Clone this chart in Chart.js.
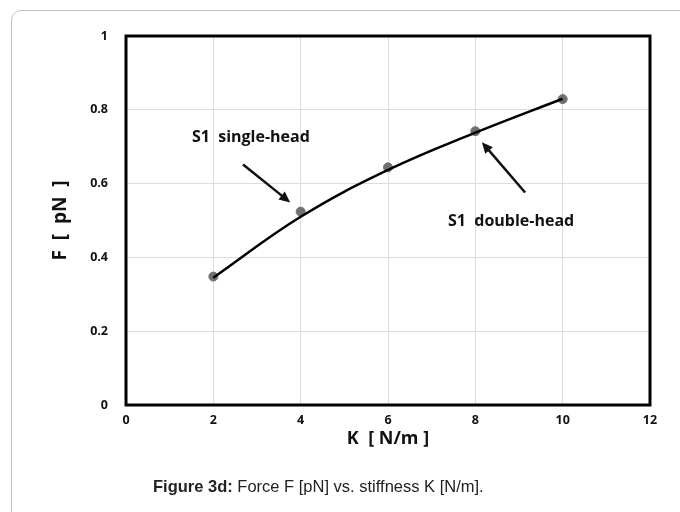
<!DOCTYPE html>
<html>
<head>
<meta charset="utf-8">
<script src="https://cdn.jsdelivr.net/npm/chart.js@4.4.0/dist/chart.umd.min.js"></script>
<style>
  html, body { margin: 0; padding: 0; background: #fff; }
  #wrap { position: relative; width: 680px; height: 512px; overflow: hidden; }
  #frame {
    position: absolute; left: 11px; top: 10px; width: 700px; height: 540px;
    border: 1px solid #c4c4c4; border-radius: 10px; box-sizing: border-box;
  }
  #chart { position: absolute; left: 0; top: 0; }
  #caption {
    position: absolute; left: 153px; top: 477px;
    font-family: "Liberation Sans", Arial, sans-serif; font-size: 16.5px; color: #222;
    white-space: nowrap;
  }
</style>
</head>
<body>
<div id="wrap">
  <div id="frame"></div>
  <canvas id="chart" width="680" height="512"></canvas>
  <div id="caption"><b>Figure 3d:</b> Force F [pN] vs. stiffness K [N/m].</div>
</div>
<script>
'use strict';

// data
const kValues = [2, 4, 6, 8, 10];
const forceValues = [0.348, 0.524, 0.644, 0.742, 0.829];
// trend curve as drawn in the figure
const fitValues = [0.345, 0.51, 0.637, 0.738, 0.83];
const xTicks = [0, 2, 4, 6, 8, 10, 12];
const yTicks = [0, 0.2, 0.4, 0.6, 0.8, 1];

// labels with arrows, in data units
const notes = [
  { text: 'S1  single-head', x: 2.86, y: 0.726, from: [2.68, 0.652], to: [3.76, 0.549] },
  { text: 'S1  double-head', x: 8.82, y: 0.497, from: [9.14, 0.576], to: [8.15, 0.712] }
];

const tickFont = { family: '"Open Sans", sans-serif', size: 12.5, weight: 'bold' };

// thick frame round the plot area
const plotBorder = {
  id: 'plotBorder',
  afterDraw(chart) {
    const a = chart.chartArea, ctx = chart.ctx;
    ctx.save();
    ctx.strokeStyle = '#000';
    ctx.lineWidth = 3;
    ctx.strokeRect(a.left, a.top, a.right - a.left, a.bottom - a.top);
    ctx.restore();
  }
};

// text labels and arrows
const arrowNotes = {
  id: 'arrowNotes',
  afterDraw(chart) {
    const ctx = chart.ctx, xs = chart.scales.x, ys = chart.scales.y;
    ctx.save();
    notes.forEach(function(n) {
      ctx.fillStyle = '#111';
      ctx.font = 'bold 16px "Open Sans", sans-serif';
      ctx.textAlign = 'center';
      ctx.textBaseline = 'middle';
      ctx.fillText(n.text, xs.getPixelForValue(n.x), ys.getPixelForValue(n.y));

      const x1 = xs.getPixelForValue(n.from[0]), y1 = ys.getPixelForValue(n.from[1]);
      const x2 = xs.getPixelForValue(n.to[0]), y2 = ys.getPixelForValue(n.to[1]);
      const ang = Math.atan2(y2 - y1, x2 - x1);
      const hl = 11, hw = 5;
      ctx.strokeStyle = '#111';
      ctx.lineWidth = 2.5;
      ctx.beginPath();
      ctx.moveTo(x1, y1);
      ctx.lineTo(x2 - Math.cos(ang) * hl * 0.8, y2 - Math.sin(ang) * hl * 0.8);
      ctx.stroke();
      ctx.beginPath();
      ctx.moveTo(x2, y2);
      ctx.lineTo(x2 - Math.cos(ang) * hl - Math.sin(ang) * hw, y2 - Math.sin(ang) * hl + Math.cos(ang) * hw);
      ctx.lineTo(x2 - Math.cos(ang) * hl + Math.sin(ang) * hw, y2 - Math.sin(ang) * hl - Math.cos(ang) * hw);
      ctx.closePath();
      ctx.fill();
    });
    ctx.restore();
  }
};

new Chart(document.getElementById('chart'), {
  type: 'scatter',
  data: {
    datasets: [{
      label: 'F',
      data: kValues.map((k, i) => ({ x: k, y: forceValues[i] })),
      backgroundColor: '#707070',
      borderColor: '#707070',
      pointRadius: 4.5,
      showLine: false,
      order: 2
    }, {
      label: 'fit',
      data: kValues.map((k, i) => ({ x: k, y: fitValues[i] })),
      showLine: true,
      borderColor: '#000',
      borderWidth: 2.5,
      tension: 0.4,
      pointRadius: 0,
      order: 1
    }]
  },
  options: {
    responsive: false,
    animation: false,
    layout: { padding: { left: 49, right: 30, top: 36, bottom: 62 } },
    scales: {
      x: {
        type: 'linear',
        min: 0, max: 12,
        afterBuildTicks: (s) => { s.ticks = xTicks.map(v => ({ value: v })); },
        afterFit: (s) => { s.height = 45; },
        grid: { color: '#dcdcdc', drawTicks: false },
        border: { display: false },
        ticks: { color: '#111', font: tickFont, padding: 8 },
        title: {
          display: true, text: 'K  [ N/m ]', color: '#111',
          font: { family: '"Open Sans", sans-serif', size: 18, weight: 'bold' },
          padding: { top: 2, bottom: 0 }
        }
      },
      y: {
        min: 0, max: 1,
        afterBuildTicks: (s) => { s.ticks = yTicks.map(v => ({ value: v })); },
        afterFit: (s) => { s.width = 77; },
        grid: { color: '#dcdcdc', drawTicks: false },
        border: { display: false },
        ticks: { color: '#111', font: tickFont, padding: 18, callback: (v) => String(v) },
        title: {
          display: true, text: 'F  [  pN  ]', color: '#111',
          font: { family: '"Open Sans", sans-serif', size: 19, weight: 'bold' },
          padding: { top: 0, bottom: 0 }
        }
      }
    },
    plugins: {
      legend: { display: false },
      tooltip: { enabled: false }
    }
  },
  plugins: [plotBorder, arrowNotes]
});
</script>
</body>
</html>
